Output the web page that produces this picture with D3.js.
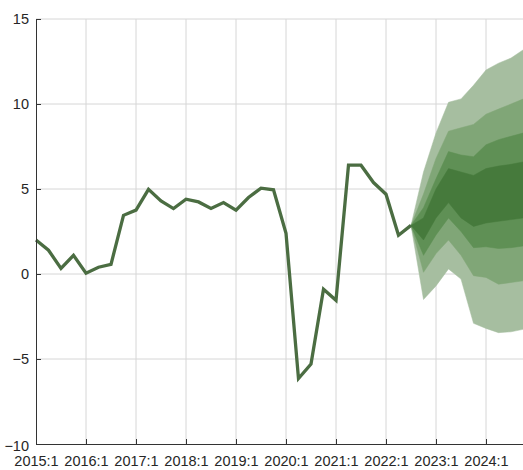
<!DOCTYPE html>
<html>
<head>
<meta charset="utf-8">
<script src="https://cdn.jsdelivr.net/npm/d3@7"></script>
<style>
  html, body { margin: 0; padding: 0; background: #fff; }
  svg { display: block; }
  text { font-family: "Liberation Sans", Arial, sans-serif; fill: #262626; }
</style>
</head>
<body>
<svg id="chart" width="523" height="470"></svg>
<script>
// Quarterly growth rate, history 2015:1 – 2022:3
const historyValues = [
  2.0, 1.4, 0.33, 1.1,      // 2015
  0.05, 0.4, 0.57, 3.45,    // 2016
  3.76, 4.98, 4.3, 3.85,    // 2017
  4.4, 4.24, 3.86, 4.2,     // 2018
  3.75, 4.5, 5.05, 4.95,    // 2019
  2.4, -6.15, -5.3, -0.9,   // 2020
  -1.55, 6.4, 6.4, 5.38,    // 2021
  4.69, 2.28, 2.86          // 2022:1-3
];

// Forecast bands 2022:3 – 2024:4 (outer to inner)
const fanStart = 30; // quarter index of 2022:3
const outerHigh  = [2.86, 6.0, 8.3, 10.1, 10.3, 11.1, 12.0, 12.4, 12.7, 13.2];
const outerLow   = [2.86, -1.5, -0.7, 0.3, -0.3, -2.9, -3.2, -3.45, -3.4, -3.25];
const secondHigh = [2.86, 4.7, 6.8, 8.4, 8.6, 8.8, 9.4, 9.7, 10.0, 10.3];
const secondLow  = [2.86, 0.1, 1.2, 2.0, 1.1, -0.1, -0.2, -0.6, -0.5, -0.4];
const thirdHigh  = [2.86, 3.9, 5.6, 7.2, 7.0, 6.9, 7.6, 7.9, 8.1, 8.3];
const thirdLow   = [2.86, 1.1, 2.3, 3.3, 2.5, 1.55, 1.6, 1.5, 1.55, 1.65];
const centerHigh = [2.86, 3.3, 5.0, 6.2, 6.0, 5.8, 6.2, 6.35, 6.45, 6.6];
const centerLow  = [2.86, 2.0, 3.3, 4.2, 3.3, 2.8, 3.0, 3.1, 3.2, 3.3];

const yearTicks = [2015, 2016, 2017, 2018, 2019, 2020, 2021, 2022, 2023, 2024];
const yTicks = [-10, -5, 0, 5, 10, 15];

const bandColors = ["#a6bea0", "#80a677", "#5f9055", "#467a3c"];
const lineColor = "#4b6d42";

const svg = d3.select("#chart");
const W = 523, H = 470;
const plotLeft = 36, plotTop = 19, plotBottom = 444;

// x measured in quarters since 2015:1
const x = d3.scaleLinear().domain([0, 39]).range([plotLeft, plotLeft + 39 * 12.5]);
const y = d3.scaleLinear().domain([-10, 15]).range([plotBottom, plotTop]);

// grid
const grid = svg.append("g");
grid.selectAll("line.v").data(yearTicks.slice(1)).join("line")
  .attr("x1", d => x((d - 2015) * 4)).attr("x2", d => x((d - 2015) * 4))
  .attr("y1", plotTop).attr("y2", plotBottom)
  .attr("stroke", "#d6d6d6").attr("stroke-width", 1);
grid.selectAll("line.h").data(yTicks.filter(d => d > -10)).join("line")
  .attr("x1", plotLeft).attr("x2", W)
  .attr("y1", d => y(d)).attr("y2", d => y(d))
  .attr("stroke", "#d6d6d6").attr("stroke-width", 1);

// fan
const bands = [
  [outerLow, outerHigh],
  [secondLow, secondHigh],
  [thirdLow, thirdHigh],
  [centerLow, centerHigh]
];
const area = d3.area()
  .x(d => x(d.q)).y0(d => y(d.lo)).y1(d => y(d.hi));
bands.forEach(([lo, hi], k) => {
  const pts = lo.map((v, i) => ({ q: fanStart + i, lo: v, hi: hi[i] }));
  svg.append("path").datum(pts).attr("d", area)
    .attr("fill", bandColors[k]).attr("stroke", bandColors[k]).attr("stroke-width", 0.5);
});

// history line
const line = d3.line().x((d, i) => x(i)).y(d => y(d));
svg.append("path").datum(historyValues).attr("d", line)
  .attr("fill", "none").attr("stroke", lineColor)
  .attr("stroke-width", 3.3).attr("stroke-linejoin", "miter");

// axes
const xAxis = d3.axisBottom(x)
  .tickValues(yearTicks.map(d => (d - 2015) * 4))
  .tickFormat(d => `${2015 + d / 4}:1`)
  .tickSizeInner(-5).tickSizeOuter(0).tickPadding(12);
const gx = svg.append("g").attr("transform", `translate(0,${plotBottom})`).call(xAxis);
gx.select(".domain").attr("d", `M${plotLeft},0.5H${W}`).attr("stroke", "#333");
gx.selectAll(".tick line").attr("stroke", "#333");
gx.selectAll(".tick text").attr("font-size", 14.5).attr("fill", "#262626");

const yAxis = d3.axisLeft(y).tickValues(yTicks)
  .tickSizeInner(-5).tickSizeOuter(0).tickPadding(7);
const gy = svg.append("g").attr("transform", `translate(${plotLeft},0)`).call(yAxis);
gy.select(".domain").attr("stroke", "#333");
gy.selectAll(".tick line").attr("stroke", "#333");
gy.selectAll(".tick text").attr("font-size", 14.5).attr("fill", "#262626")
  .attr("dy", d => d === -10 ? "0.42em" : "0.32em");
</script>
</body>
</html>
